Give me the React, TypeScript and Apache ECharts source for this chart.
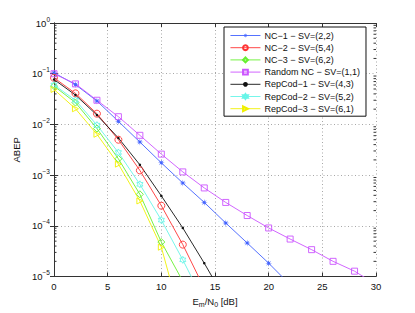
import React, { useEffect, useRef } from "react";
import * as echarts from "echarts";

// ---- data ----
const nc1X = [0, 2, 4, 6, 8, 10, 12, 14, 16, 18, 20, 22];
const nc1 = [0.104, 0.061, 0.029, 0.0115, 0.0045, 0.00175, 7.0e-4, 2.9e-4, 1.14e-4, 4.6e-5, 1.84e-5, 6.9e-6];

const nc2X = [0, 2, 4, 6, 8, 10, 12, 14];
const nc2 = [0.083, 0.041, 0.0163, 0.005, 1.24e-3, 2.5e-4, 4.27e-5, 5.9e-6];

const nc3X = [0, 2, 4, 6, 8, 10, 12];
const nc3 = [0.057, 0.027, 0.0083, 2.1e-3, 4.2e-4, 4.8e-5, 8.1e-6];

const rndX = [0, 2, 4, 6, 8, 10, 12, 14, 16, 18, 20, 22, 24, 26, 28, 30];
const rnd = [0.1, 0.063, 0.03, 0.0142, 0.0061, 0.0026, 0.00116, 5.6e-4, 2.9e-4, 1.6e-4, 9.1e-5, 5.5e-5, 3.4e-5, 2.0e-5, 1.28e-5, 7.0e-6];

const rep1X = [0, 2, 4, 6, 8, 10, 12, 14, 16];
const rep1 = [0.077, 0.038, 0.0153, 0.0054, 1.6e-3, 3.9e-4, 9.1e-5, 1.84e-5, 3.4e-6];

const rep2X = [0, 2, 4, 6, 8, 10, 12, 14];
const rep2 = [0.06, 0.03, 0.0097, 2.8e-3, 6.6e-4, 1.3e-4, 2.14e-5, 3.1e-6];

const rep3X = [0, 2, 4, 6, 8, 10, 12];
const rep3 = [0.049, 0.0204, 0.0064, 1.65e-3, 3.1e-4, 3.8e-5, 1.1e-6];

const seriesNames = [
  "NC−1 − SV=(2,2)",
  "NC−2 − SV=(5,4)",
  "NC−3 − SV=(6,2)",
  "Random NC − SV=(1,1)",
  "RepCod−1 − SV=(4,3)",
  "RepCod−2 − SV=(5,2)",
  "RepCod−3 − SV=(6,1)",
];

const xTicks = [0, 5, 10, 15, 20, 25, 30];
const yMin = 1e-5;
const yMax = 1;
const minorTickValues: number[] = [];
for (let e = -5; e < 0; e++) {
  for (let m = 2; m <= 9; m++) minorTickValues.push(m * Math.pow(10, e));
}

// ---- styling helpers ----
function starPath(n: number, ratio: number, R: number): string {
  const pts: string[] = [];
  for (let i = 0; i < 2 * n; i++) {
    const r = i % 2 === 0 ? R : R * ratio;
    const a = (Math.PI * i) / n - Math.PI / 2;
    pts.push(`${(R + r * Math.cos(a)).toFixed(2)},${(R + r * Math.sin(a)).toFixed(2)}`);
  }
  return "path://M" + pts.join(" L") + " Z";
}
const asterisk = starPath(8, 0.32, 3.3);
const hexagram = starPath(6, 0.58, 3.3);
const triRight = "path://M0,0 L6,3 L0,6 Z";

const pairs = (xs: number[], ys: number[]) => xs.map((x, i) => [x, ys[i]]);

function lineSeries(name: string, data: number[][], color: string, symbol: string, size: number, filled: boolean) {
  return {
    type: "line",
    name,
    data,
    symbol,
    symbolSize: size,
    symbolKeepAspect: true,
    clip: true,
    lineStyle: { color, width: 0.9 },
    itemStyle: filled
      ? { color, borderColor: color, borderWidth: 0 }
      : { color: "rgba(255,255,255,0)", borderColor: color, borderWidth: 0.9 },
    emphasis: { disabled: true },
    z: 3,
  };
}

const font = "'Liberation Sans', Arial, Helvetica, sans-serif";

export default function App() {
  const ref = useRef<HTMLDivElement>(null);
  useEffect(() => {
    if (!ref.current) return;
    const chart = echarts.init(ref.current, undefined, { renderer: "svg" });
    const gridLine = { show: true, lineStyle: { color: "#a8a8a8", type: [1, 2.5] as any, width: 1 } };
    const axisLine = { show: true, lineStyle: { color: "#333", width: 1 } };
    const option: any = {
      animation: false,
      backgroundColor: "#fff",
      textStyle: { fontFamily: font },
      grid: { left: 54, right: 39, top: 23, bottom: 35, containLabel: false },
      legend: {
        data: seriesNames,
        orient: "vertical",
        left: 224,
        top: 27,
        width: 148,
        padding: [4, 6, 3, 6],
        itemWidth: 30,
        itemHeight: 6,
        itemGap: 3.2,
        backgroundColor: "#fff",
        borderColor: "#111",
        borderWidth: 1,
        borderRadius: 0,
        selectedMode: false,
        lineStyle: { width: 0.9 },
        textStyle: { fontFamily: font, fontSize: 9, lineHeight: 9, color: "#111", padding: [0, 0, 0, -1] },
      },
      xAxis: [
        {
          type: "value",
          min: 0,
          max: 30,
          interval: 5,
          position: "bottom",
          axisLine,
          axisTick: { show: true, inside: true, length: 4, lineStyle: { color: "#333" } },
          axisLabel: {
            fontSize: 9.5,
            color: "#111",
            margin: 5,
            fontFamily: font,
            customValues: xTicks,
          },
          splitLine: gridLine,
          name: "{n|E}{s|m}{n|/N}{s|0}{n| [dB]}",
          nameLocation: "middle",
          nameGap: 12,
          nameTextStyle: {
            fontFamily: font,
            color: "#111",
            verticalAlign: "top",
            rich: {
              n: { fontSize: 9.5, fontFamily: font, color: "#111" },
              s: { fontSize: 7, fontFamily: font, color: "#111", padding: [6, 0, 0, 0] },
            },
          },
        },
        {
          type: "value",
          min: 0,
          max: 30,
          interval: 5,
          position: "top",
          axisLine,
          axisTick: { show: true, inside: true, length: 4, lineStyle: { color: "#333" } },
          axisLabel: { show: false },
          splitLine: { show: false },
        },
      ],
      yAxis: [
        {
          type: "log",
          logBase: 10,
          min: yMin,
          max: yMax,
          splitNumber: 5,
          position: "left",
          axisLine,
          axisTick: { show: true, inside: true, length: 4, lineStyle: { color: "#333" } },
          axisLabel: {
            margin: 4,
            fontFamily: font,
            color: "#111",
            formatter: (v: number) => {
              const e = Math.round(Math.log10(v));
              return `{b|10}{e|${e === 0 ? "0" : "−" + -e}}`;
            },
            rich: {
              b: { fontSize: 9.5, fontFamily: font, color: "#111" },
              e: { fontSize: 6.5, fontFamily: font, color: "#111", padding: [0, 0, 8, 0] },
            },
          },
          splitLine: gridLine,
          name: "ABEP",
          nameLocation: "middle",
          nameGap: 19,
          nameRotate: 90,
          nameTextStyle: { fontFamily: font, fontSize: 9.5, color: "#111" },
        },
        {
          type: "log",
          logBase: 10,
          min: yMin,
          max: yMax,
          splitNumber: 5,
          position: "right",
          axisLine,
          axisTick: { show: true, inside: true, length: 4, lineStyle: { color: "#333" } },
          axisLabel: { show: false },
          splitLine: { show: false },
        },
      ],
      series: [
        lineSeries(seriesNames[0], pairs(nc1X, nc1), "#4262ff", asterisk, 7, true),
        lineSeries(seriesNames[1], pairs(nc2X, nc2), "#ff3333", "circle", 7, false),
        lineSeries(seriesNames[2], pairs(nc3X, nc3), "#66f030", "diamond", 7, false),
        lineSeries(seriesNames[3], pairs(rndX, rnd), "#cc55ff", "rect", 6, false),
        lineSeries(seriesNames[4], pairs(rep1X, rep1), "#111111", "circle", 2.5, true),
        lineSeries(seriesNames[5], pairs(rep2X, rep2), "#66f5e8", hexagram, 7, false),
        lineSeries(seriesNames[6], pairs(rep3X, rep3), "#f0f000", triRight, 6, false),
        {
          type: "custom",
          name: "minorTicks",
          data: minorTickValues.map((v) => [0, v]),
          silent: true,
          z: 2,
          renderItem: (params: any, api: any) => {
            const v = api.value(1);
            const l = api.coord([0, v]);
            const r = api.coord([30, v]);
            return {
              type: "group",
              children: [
                { type: "line", shape: { x1: l[0], y1: l[1], x2: l[0] + 2.5, y2: l[1] }, style: { stroke: "#333", lineWidth: 1 } },
                { type: "line", shape: { x1: r[0], y1: r[1], x2: r[0] - 2.5, y2: r[1] }, style: { stroke: "#333", lineWidth: 1 } },
              ],
            };
          },
        },
      ],
    };
    chart.setOption(option);
    return () => chart.dispose();
  }, []);
  return <div ref={ref} style={{ width: 415, height: 313, position: "absolute", left: 0, top: 0 }} />;
}
